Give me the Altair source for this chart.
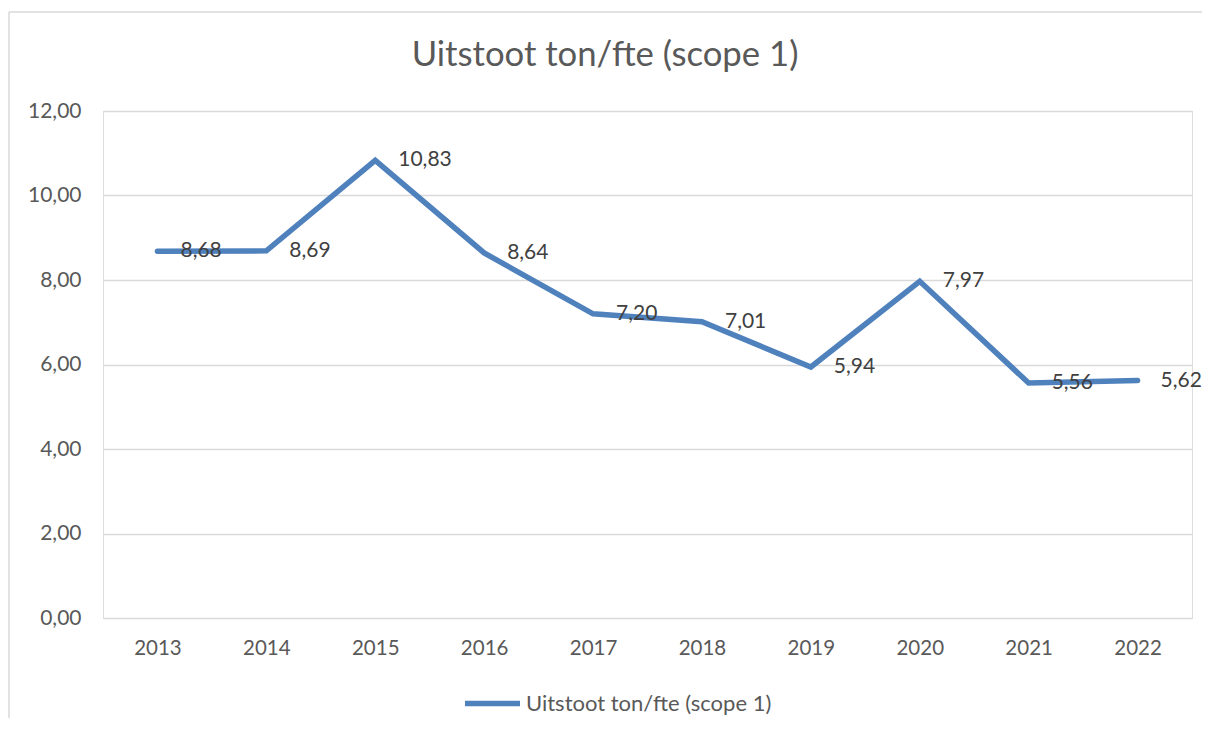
import altair as alt
import pandas as pd

years = ["2013", "2014", "2015", "2016", "2017", "2018", "2019", "2020", "2021", "2022"]
values = [8.68, 8.69, 10.83, 8.64, 7.20, 7.01, 5.94, 7.97, 5.56, 5.62]
y_ticks = [0, 2, 4, 6, 8, 10, 12]
series_name = "Uitstoot ton/fte (scope 1)"
title_text = "Uitstoot ton/fte (scope 1)"

df = pd.DataFrame({"year": years, "value": values, "series": [series_name] * len(years)})

FONT = "Lato"
LINE_COLOR = "#4F81BD"

x_enc = alt.X(
    "year:N",
    sort=years,
    scale=alt.Scale(type="point", padding=0.5),
    axis=alt.Axis(
        title=None, labelAngle=0, domain=False, ticks=False, grid=False,
        labelFont=FONT, labelFontSize=20.5, labelColor="#595959", labelPadding=20,
    ),
)
y_enc = alt.Y(
    "value:Q",
    scale=alt.Scale(domain=[0, 12], nice=False, zero=True),
    axis=alt.Axis(
        title=None, values=y_ticks, domain=False, ticks=False, grid=True,
        gridColor="#d9d9d9", gridWidth=1.4,
        labelExpr="replace(format(datum.value, '.2f'), '.', ',')",
        labelFont=FONT, labelFontSize=21, labelColor="#595959", labelPadding=22,
    ),
)

line = alt.Chart(df).mark_line(strokeWidth=5.5, strokeCap="round", strokeJoin="miter").encode(
    x=x_enc,
    y=y_enc,
    color=alt.Color(
        "series:N",
        scale=alt.Scale(domain=[series_name], range=[LINE_COLOR]),
        legend=alt.Legend(
            title=None, orient="none", legendX=359, legendY=562,
            symbolType="stroke", symbolSize=3025, symbolStrokeWidth=5.5,
            labelFont=FONT, labelFontSize=22, labelColor="#595959", labelOffset=3,
            labelLimit=500,
        ),
    ),
)

labels = alt.Chart(df).transform_calculate(
    label="replace(format(datum.value, '.2f'), '.', ',')"
).mark_text(
    align="left", baseline="middle", dx=23, font=FONT, fontSize=21, color="#404040"
).encode(x=x_enc, y=y_enc, text="label:N")

one_row = pd.DataFrame({"k": [0]})
border_left = alt.Chart(one_row).mark_rule(color="#d9d9d9", strokeWidth=1.5).encode(
    x=alt.value(-94), y=alt.value(-99), y2=alt.value(640)
)
border_top = alt.Chart(one_row).mark_rule(color="#d9d9d9", strokeWidth=1.5).encode(
    x=alt.value(-94), x2=alt.value(1120), y=alt.value(-99)
)
title = alt.Chart(one_row).mark_text(
    align="center", baseline="alphabetic", font=FONT, fontSize=34.7, color="#595959"
).encode(x=alt.value(502), y=alt.value(-45), text=alt.value(title_text))

chart = alt.layer(border_left, border_top, title, line, labels).properties(
    width=1089,
    height=507,
    autosize=alt.AutoSizeParams(type="none"),
    padding={"left": 95, "top": 103, "right": 10, "bottom": 100},
).configure_view(stroke=None).configure(background="white")

chart.save("out.html", embed_options={"renderer": "svg", "actions": False})
